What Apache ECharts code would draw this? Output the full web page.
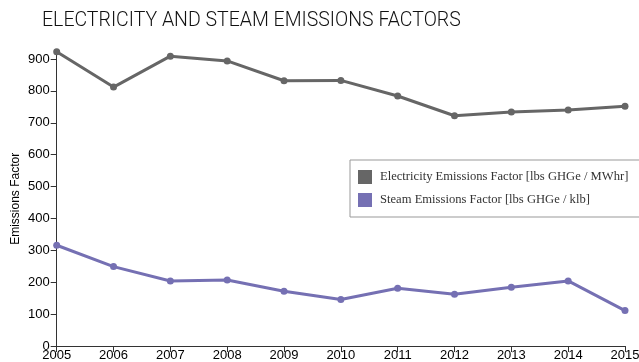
<!DOCTYPE html>
<html>
<head>
<meta charset="utf-8">
<script src="https://cdn.jsdelivr.net/npm/echarts@6/dist/echarts.min.js"></script>
<style>
  html, body { margin: 0; padding: 0; background: #fff; }
  #chart { width: 639px; height: 362px; }
</style>
</head>
<body>
<div id="chart"></div>
<script>
// Emissions factors by year
const years = ['2005', '2006', '2007', '2008', '2009', '2010', '2011', '2012', '2013', '2014', '2015'];
const electricity = [923, 812, 909, 894, 832, 833, 784, 722, 734, 740, 752];
const steam = [316, 249, 204, 207, 172, 146, 181, 162, 184, 204, 111];
const yTicks = [0, 100, 200, 300, 400, 500, 600, 700, 800, 900];

const chart = echarts.init(document.getElementById('chart'));
const axisColor = '#333';

chart.setOption({
  animation: false,
  title: {
    text: 'ELECTRICITY AND STEAM EMISSIONS FACTORS',
    left: 42,
    top: 11,
    padding: 0,
    textStyle: { fontFamily: 'Roboto', fontWeight: 300, fontSize: 19.5, color: '#111' }
  },
  legend: {
    orient: 'vertical',
    left: 350,
    top: 160,
    itemWidth: 14,
    itemHeight: 14,
    itemGap: 9,
    padding: [10, 30, 10, 8],
    borderColor: '#999',
    borderWidth: 1,
    backgroundColor: '#fff',
    icon: 'rect',
    textStyle: { fontFamily: 'Liberation Serif', fontSize: 12.6, color: '#333', padding: [0, 0, 0, 3] },
    data: ['Electricity Emissions Factor [lbs GHGe / MWhr]', 'Steam Emissions Factor [lbs GHGe / klb]']
  },
  grid: { left: 56.7, right: 14, top: 51.7, bottom: 16, containLabel: false, outerBoundsMode: 'none' },
  xAxis: {
    type: 'category',
    data: years,
    boundaryGap: false,
    axisLine: { lineStyle: { color: axisColor, width: 1 } },
    axisTick: { inside: false, alignWithLabel: true, length: 6, lineStyle: { color: axisColor } },
    axisLabel: { fontFamily: 'Liberation Sans', fontSize: 13, color: '#000', margin: 3 }
  },
  yAxis: {
    type: 'value',
    min: 0,
    max: Math.max(...electricity),
    name: 'Emissions Factor',
    nameLocation: 'middle',
    nameGap: 35,
    nameMoveOverlap: false,
    nameTextStyle: { fontFamily: 'Liberation Sans', fontSize: 12, color: '#000' },
    splitLine: { show: false },
    axisLine: { show: true, lineStyle: { color: axisColor, width: 1 } },
    axisTick: { show: true, inside: false, length: 6, lineStyle: { color: axisColor }, customValues: yTicks },
    axisLabel: { fontFamily: 'Liberation Sans', fontSize: 13, color: '#000', margin: 7, customValues: yTicks }
  },
  series: [
    {
      name: 'Electricity Emissions Factor [lbs GHGe / MWhr]',
      type: 'line',
      data: electricity,
      color: '#666666',
      symbol: 'circle',
      symbolSize: 7,
      lineStyle: { width: 3 }
    },
    {
      name: 'Steam Emissions Factor [lbs GHGe / klb]',
      type: 'line',
      data: steam,
      color: '#7570b3',
      symbol: 'circle',
      symbolSize: 7,
      lineStyle: { width: 3 }
    }
  ]
});
</script>
</body>
</html>
